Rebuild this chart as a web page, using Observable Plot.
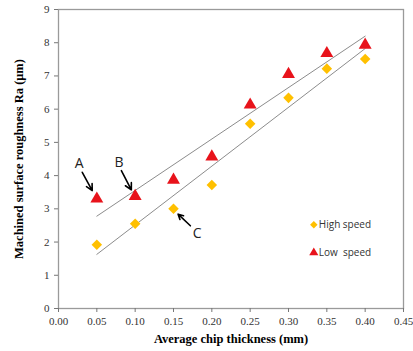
<!DOCTYPE html>
<html>
<head>
<meta charset="utf-8">
<script src="https://cdn.jsdelivr.net/npm/d3@7"></script>
<script src="https://cdn.jsdelivr.net/npm/@observablehq/plot@0.6"></script>
<style>
  html, body { margin: 0; padding: 0; background: #fff; }
  #chart { position: relative; width: 413px; height: 351px; }
  #chart svg text { font-family: "Liberation Serif", Tinos, "Times New Roman", serif; }
  #chart svg .sans text { font-family: "Open Sans", "Liberation Sans", Arial, sans-serif; }
</style>
</head>
<body>
<div id="chart"></div>
<script>
// Data
const chipThickness = [0.05, 0.10, 0.15, 0.20, 0.25, 0.30, 0.35, 0.40];
const highSpeed = [1.92, 2.55, 3.00, 3.72, 5.56, 6.34, 7.22, 7.51];
const lowSpeed  = [3.30, 3.38, 3.87, 4.57, 6.13, 7.05, 7.68, 7.93];
const xTicks = [0, 0.05, 0.10, 0.15, 0.20, 0.25, 0.30, 0.35, 0.40, 0.45];
const yTicks = [0, 1, 2, 3, 4, 5, 6, 7, 8, 9];

// Annotations (data coordinates)
const annLabels = ["A", "B", "C"];
const annLabelX = [0.027, 0.079, 0.181];
const annLabelY = [4.35, 4.38, 2.25];
const arrowX1 = [0.031, 0.082, 0.172];
const arrowY1 = [4.10, 4.15, 2.49];
const arrowX2 = [0.044, 0.095, 0.156];
const arrowY2 = [3.55, 3.57, 2.84];

// Legend (data coordinates)
const legendNames = ["High speed", "Low  speed"];
const legendX = [0.333, 0.333];
const legendY = [2.52, 1.68];

const high = chipThickness.map((x, i) => ({x, y: highSpeed[i]}));
const low = chipThickness.map((x, i) => ({x, y: lowSpeed[i]}));
const arrows = annLabels.map((l, i) => ({l, lx: annLabelX[i], ly: annLabelY[i], x1: arrowX1[i], y1: arrowY1[i], x2: arrowX2[i], y2: arrowY2[i]}));
const legend = legendNames.map((n, i) => ({n, x: legendX[i], y: legendY[i]}));
const serif = "Liberation Serif";

const chart = Plot.plot({
  width: 413,
  height: 351,
  marginLeft: 58,
  marginRight: 10,
  marginTop: 9,
  marginBottom: 43,
  style: {fontSize: "11px", color: "#333", background: "#fff"},
  x: {domain: [0, 0.45], ticks: xTicks, tickFormat: d3.format(".2f"), label: null},
  y: {domain: [0, 9], ticks: yTicks, label: null},
  marks: [
    Plot.frame({stroke: "#9a9a9a", strokeWidth: 1.3}),
    Plot.axisX({ticks: xTicks, tickFormat: d3.format(".2f"), tickSize: 4, tickPadding: 5, stroke: "#777", fill: "#333", fontSize: 11, fontFamily: serif, label: null}),
    Plot.axisY({ticks: yTicks, tickSize: 4, tickPadding: 5, stroke: "#777", fill: "#333", fontSize: 11, fontFamily: serif, label: null}),
    Plot.linearRegressionY(high, {x: "x", y: "y", ci: 0, stroke: "#8c8c8c", strokeWidth: 1}),
    Plot.linearRegressionY(low, {x: "x", y: "y", ci: 0, stroke: "#8c8c8c", strokeWidth: 1}),
    Plot.dot(high, {x: "x", y: "y", symbol: "square", rotate: 45, fill: "#FFC000", r: 4.2}),
    Plot.dot(low, {x: "x", y: "y", symbol: "triangle", fill: "#E8131B", r: 4.8}),
    Plot.arrow(arrows, {x1: "x1", y1: "y1", x2: "x2", y2: "y2", stroke: "#000", strokeWidth: 1.6, headLength: 8, headAngle: 55}),
    Plot.text(arrows, {x: "lx", y: "ly", text: "l", className: "sans", fontSize: 14, fill: "#222"}),
    Plot.dot(legend.slice(0, 1), {x: "x", y: "y", symbol: "square", rotate: 45, fill: "#FFC000", r: 3.0}),
    Plot.dot(legend.slice(1), {x: "x", y: "y", symbol: "triangle", fill: "#E8131B", r: 3.4}),
    Plot.text(legend, {x: "x", y: "y", text: "n", dx: 5, textAnchor: "start", className: "sans", fontSize: 10, fill: "#333"}),
    Plot.text(["Average chip thickness (mm)"], {frameAnchor: "bottom", textAnchor: "middle", dy: 34, text: d => d, fontSize: 12.5, fontWeight: "bold", fontFamily: serif, fill: "#000"}),
    Plot.text(["Machined surface roughness Ra (\u03bcm)"], {frameAnchor: "left", textAnchor: "middle", dx: -40, rotate: -90, text: d => d, fontSize: 12.5, fontWeight: "bold", fontFamily: serif, fill: "#000"})
  ]
});
document.getElementById("chart").appendChild(chart);
</script>
</body>
</html>
